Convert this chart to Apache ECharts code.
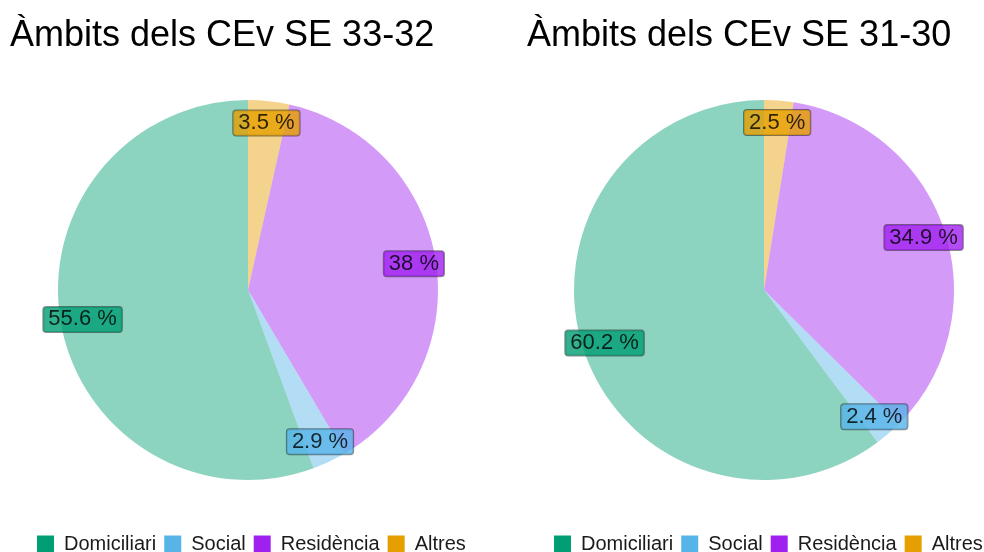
<!DOCTYPE html>
<html>
<head>
<meta charset="utf-8">
<script src="https://cdn.jsdelivr.net/npm/echarts@6/dist/echarts.min.js"></script>
<style>
  html, body { margin: 0; padding: 0; background: #fff; }
  #container { width: 984px; height: 552px; }
</style>
</head>
<body>
<div id="container"></div>
<script>
// categories in legend order
var categories = ['Domiciliari', 'Social', 'Residència', 'Altres'];
var colors = ['#009E73', '#56B4E9', '#A020F0', '#E69F00'];

var titles = ['Àmbits dels CEv SE 33-32', 'Àmbits dels CEv SE 31-30'];
var valuesLeft = [55.6, 2.9, 38, 3.5];
var valuesRight = [60.2, 2.4, 34.9, 2.5];

var FONT = 'Liberation Sans, Arial, sans-serif';

function hexToRgba(hex, a) {
    var n = parseInt(hex.slice(1), 16);
    return 'rgba(' + (n >> 16) + ',' + ((n >> 8) & 255) + ',' + (n & 255) + ',' + a + ')';
}

// slices go clockwise from 12 o'clock: Altres, Residència, Social, Domiciliari
function sliceData(values, withLabel) {
    var out = [];
    for (var i = categories.length - 1; i >= 0; i--) {
        var item = { name: categories[i], value: values[i] };
        if (withLabel) {
            item.label = { backgroundColor: hexToRgba(colors[i], 0.8) };
        } else {
            item.itemStyle = { color: hexToRgba(colors[i], 0.45) };
        }
        out.push(item);
    }
    return out;
}

function pieSeries(values, cx) {
    return [
        {
            type: 'pie',
            center: [cx, 290],
            radius: [0, 190],
            startAngle: 90,
            clockwise: true,
            silent: true,
            label: { show: false },
            labelLine: { show: false },
            data: sliceData(values, false)
        },
        {
            // invisible copy, only used to place the value labels further out
            type: 'pie',
            center: [cx, 290],
            radius: [0, 330],
            startAngle: 90,
            clockwise: true,
            silent: true,
            itemStyle: { color: 'rgba(0,0,0,0)' },
            label: {
                show: true,
                position: 'inside',
                formatter: '{c} %',
                fontFamily: FONT,
                fontSize: 22,
                color: 'rgba(0,0,0,0.8)',
                borderColor: 'rgba(0,0,0,0.45)',
                borderWidth: 1,
                borderRadius: 3,
                padding: [2, 5, 1, 5]
            },
            labelLine: { show: false },
            data: sliceData(values, true)
        }
    ];
}

function legendFor(idx, left) {
    var items = categories.map(function (name, i) {
        return { name: name, icon: 'rect', itemStyle: { color: colors[i], opacity: 1 } };
    });
    return {
        seriesIndex: [idx * 2],
        data: items,
        left: left,
        top: 534,
        width: 470,
        padding: 0,
        orient: 'horizontal',
        itemWidth: 17,
        itemHeight: 17,
        itemGap: 8,
        selectedMode: false,
        textStyle: { fontFamily: FONT, fontSize: 20, color: '#1a1a1a', padding: [0, 0, 0, 5] }
    };
}

var chartDom = document.getElementById('container');
var myChart = echarts.init(chartDom, null, { renderer: 'canvas' });

var option = {
    animation: false,
    backgroundColor: '#fff',
    title: [
        { text: titles[0], left: 5, top: 13, textStyle: { fontFamily: FONT, fontSize: 36, fontWeight: 'normal', color: '#000' } },
        { text: titles[1], left: 522, top: 13, textStyle: { fontFamily: FONT, fontSize: 36, fontWeight: 'normal', color: '#000' } }
    ],
    legend: [legendFor(0, 37), legendFor(1, 554)],
    series: pieSeries(valuesLeft, 248).concat(pieSeries(valuesRight, 764))
};

myChart.setOption(option);
window.addEventListener('resize', myChart.resize);
</script>
</body>
</html>
